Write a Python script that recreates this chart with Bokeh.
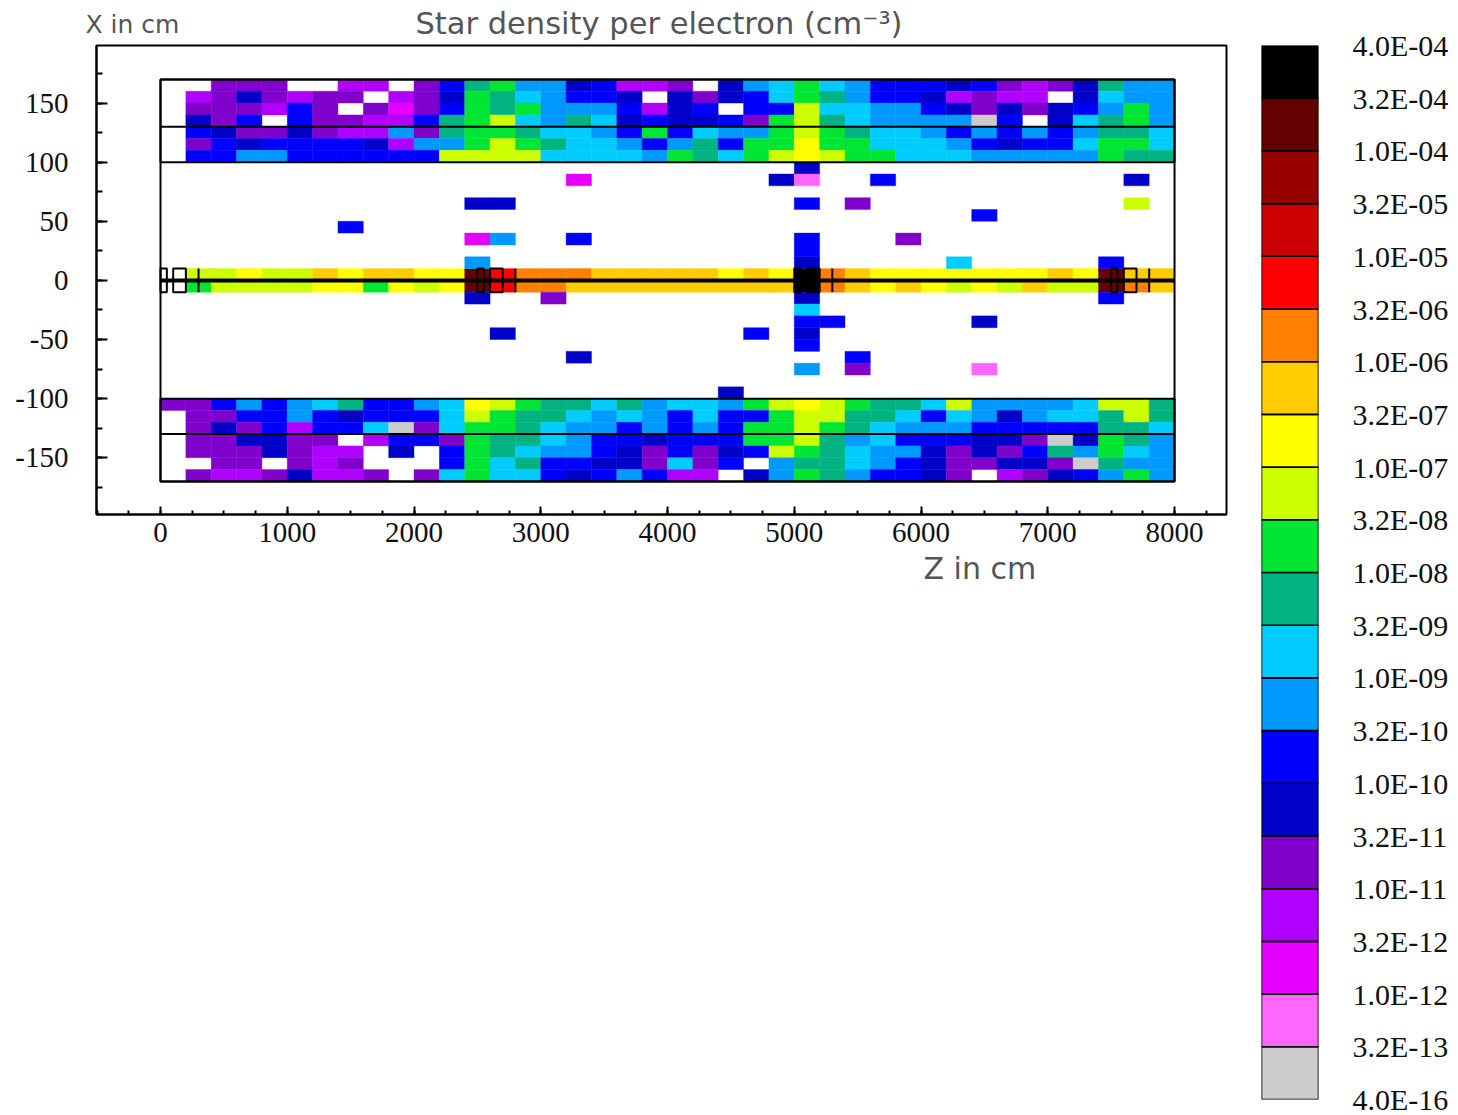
from bokeh.plotting import figure
from bokeh.models import ColumnDataSource, Range1d, FixedTicker, LinearAxis, CategoricalColorMapper
from bokeh.core.properties import value
from bokeh.embed import file_html
from bokeh.resources import INLINE

# colour levels, bottom of the colour bar first
level_codes = list("GPMUVDBACTNLYZORSHIK")
level_colors = ["#CCCCCC", "#FF66FF", "#E600FF", "#B000FF", "#8000CC", "#0000C8", "#0000FF",
                "#0099FF", "#00CCFF", "#00B380", "#00E633", "#CCFF00", "#FFFF00", "#FFCC00",
                "#FF8000", "#FF0000", "#CC0000", "#990000", "#660000", "#000000"]
level_labels = ["4.0E-16", "3.2E-13", "1.0E-12", "3.2E-12", "1.0E-11", "3.2E-11", "1.0E-10",
                "3.2E-10", "1.0E-09", "3.2E-09", "1.0E-08", "3.2E-08", "1.0E-07", "3.2E-07",
                "1.0E-06", "3.2E-06", "1.0E-05", "3.2E-05", "1.0E-04", "3.2E-04", "4.0E-04"]

# each row is 40 bins of 200 cm along Z; rows are 10 cm high in X
top_band = {  # lower X edge of row -> levels
    160: "..VVV..UU.VBTNAADBUUV.DACNCABBBDBVUVDTAA",
    150: ".UVDVUVV.UVDNTCABBD.DVDBCNTABBDUVUU.DCAA",
    140: ".VVVUBV.VMVBNTNAAABUDB.BBLCCAABDVDVDBANA",
    130: ".DVB.BVVUUBTNLCATCDBDDBVNLTCAAAAGB.DCTNA",
    120: ".BDVVDVUUAVTNNTCCABNBCAANLNTCCABABABATTC",
    110: ".VBDBBBBDUAANLNTCCABATBNNYNNCCCABDBBCNNC",
    100: ".BBAABBBBBBLLLLCCCCANTCNLYLNNCCCAAAAANTT",
}
beam_band = {
    0:   ".LLYLLZYZZYYIROOOZZZZZYZYKOZYYYYYYYZYIZZ",
    -10: ".NLLLLYYNYLYIROOZZZZZZZZZKOZYZYLYLZLLIOZ",
}
bottom_band = {
    -110: "VVBABACTBBACYLNTTCTACCANLYLNTTCLAAAACLLT",
    -120: ".VVBBABDBBBCLNTTCACABCBBNLLTTCBCADACCTLT",
    -130: ".VDVBUBBCGVCNNTCAABABABNNLNTCAAABBBBBTTC",
    -140: ".VVDDVV.UBBVNTTCABBDBBBNNLTACBBBDDVGDNTA",
    -150: ".VVVDVUU.D.BNTCAABDVBVDBLNTCAADVDVBTANCA",
    -160: "..VV.VUV...BNCTBBDDVCVB.ATTCABDVVDDVGTAA",
    -170: ".VUUVDUUV.VCNCCBDBABUU.DANTABBDV.UVDBANA",
}
# isolated bins between the bands: (bin index, lower X edge, level)
sparse_bins = [
    (25, 90, "D"), (16, 80, "M"), (24, 80, "D"), (25, 80, "P"), (28, 80, "B"), (38, 80, "D"),
    (12, 60, "D"), (13, 60, "D"), (25, 60, "B"), (27, 60, "V"), (38, 60, "L"),
    (32, 50, "B"), (7, 40, "B"),
    (12, 30, "M"), (13, 30, "A"), (16, 30, "B"), (25, 30, "B"), (29, 30, "V"),
    (25, 20, "B"),
    (12, 10, "A"), (25, 10, "D"), (31, 10, "C"), (37, 10, "B"),
    (12, -20, "D"), (15, -20, "V"), (25, -20, "D"), (37, -20, "B"),
    (25, -30, "C"),
    (25, -40, "B"), (26, -40, "B"), (32, -40, "D"),
    (13, -50, "D"), (23, -50, "B"), (25, -50, "D"),
    (25, -60, "B"),
    (16, -70, "D"), (27, -70, "B"),
    (25, -80, "A"), (27, -80, "V"), (32, -80, "P"),
    (22, -100, "D"),
]
bin_width = 200
row_height = 10

# detector outline
z_ticks = [0, 1000, 2000, 3000, 4000, 5000, 6000, 7000, 8000]
x_ticks = [-150, -100, -50, 0, 50, 100, 150]
x_tick_labels = {-150: "-150", -100: "-100", -50: "-50", 0: "0", 50: "50", 100: "100", 150: "150"}
module_starts = [0, 2500, 5000, 7500]
box_short = (0, 50)
box_long = (100, 200)
module_tick = 300
beam_half = 10

left, right, bottom, top, codes = [], [], [], [], []
for band in (top_band, beam_band, bottom_band):
    for x_low, levels in band.items():
        for i, c in enumerate(levels):
            if c != ".":
                left.append(i * bin_width); right.append((i + 1) * bin_width)
                bottom.append(x_low); top.append(x_low + row_height); codes.append(c)
for i, x_low, c in sparse_bins:
    left.append(i * bin_width); right.append((i + 1) * bin_width)
    bottom.append(x_low); top.append(x_low + row_height); codes.append(c)

mapper = CategoricalColorMapper(factors=level_codes, palette=level_colors)
cells = ColumnDataSource(dict(left=left, right=right, bottom=bottom, top=top, code=codes))

TICK_FONT = "Liberation Serif"
TITLE_FONT = "DejaVu Sans"
TITLE_COLOR = "#555555"

p = figure(width=1250, height=1115, x_range=Range1d(-505, 8410), y_range=Range1d(-198, 198.7),
           toolbar_location=None, output_backend="svg",
           min_border_left=96, min_border_right=24, min_border_top=45, min_border_bottom=601,
           x_axis_type=None, y_axis_type=None, background_fill_color="white")
p.grid.visible = False
p.outline_line_color = "black"
p.outline_line_width = 2

p.quad(left="left", right="right", bottom="bottom", top="top", source=cells,
       fill_color={"field": "code", "transform": mapper},
       line_color={"field": "code", "transform": mapper}, line_width=0.4)

# detector geometry
p.quad(left=[0, 0, 0], right=[8000, 8000, 8000], bottom=[100, -170, -170], top=[170, -100, 170],
       fill_color=None, line_color="black", line_width=2)
p.segment(x0=[0, 0], x1=[8000, 8000], y0=[130, -130], y1=[130, -130], line_color="black", line_width=2)
p.segment(x0=[0], x1=[8000], y0=[0], y1=[0], line_color="black", line_width=4)
p.quad(left=[m + box_short[0] for m in module_starts], right=[m + box_short[1] for m in module_starts],
       bottom=-beam_half, top=beam_half, fill_color=None, line_color="black", line_width=2)
p.quad(left=[m + box_long[0] for m in module_starts], right=[m + box_long[1] for m in module_starts],
       bottom=-beam_half, top=beam_half, fill_color=None, line_color="black", line_width=2)
p.segment(x0=[m + module_tick for m in module_starts], x1=[m + module_tick for m in module_starts],
          y0=-beam_half, y1=beam_half, line_color="black", line_width=2)

xax = LinearAxis(ticker=FixedTicker(ticks=z_ticks, minor_ticks=[v * 250 for v in range(-2, 34)]))
yax = LinearAxis(ticker=FixedTicker(ticks=x_ticks, minor_ticks=[v * 25 for v in range(-7, 8)]),
                 major_label_overrides=x_tick_labels)
for ax, mj, mn, st in ((xax, 8, 4, 8), (yax, 11, 6, 28)):
    ax.axis_line_color = "black"
    ax.axis_line_width = 2
    ax.major_tick_line_color = "black"
    ax.major_tick_line_width = 2
    ax.minor_tick_line_color = "black"
    ax.minor_tick_line_width = 2
    ax.major_tick_in = mj
    ax.major_tick_out = 0
    ax.minor_tick_in = mn
    ax.minor_tick_out = 0
    ax.major_label_text_font = TICK_FONT
    ax.major_label_text_font_size = "29px"
    ax.major_label_text_color = "#111111"
    ax.major_label_standoff = st
p.add_layout(xax, "below")
p.add_layout(yax, "left")

# colour bar
bar = figure(width=208, height=1115, x_range=Range1d(0, 1), y_range=Range1d(0, len(level_codes)),
             toolbar_location=None, output_backend="svg",
             min_border_left=11, min_border_right=140, min_border_top=45, min_border_bottom=16,
             x_axis_type=None, y_axis_type=None)
bar.styles = {"position": "absolute", "left": "1250px", "top": "0px"}
bar.grid.visible = False
bar.outline_line_color = None
bar_src = ColumnDataSource(dict(bottom=list(range(len(level_codes))),
                                top=list(range(1, len(level_codes) + 1)),
                                code=level_codes))
bar.quad(left=0, right=1, bottom="bottom", top="top", source=bar_src,
         fill_color={"field": "code", "transform": mapper}, line_color="black", line_width=1.6)
bax = LinearAxis(ticker=FixedTicker(ticks=list(range(len(level_labels)))),
                 major_label_overrides={i: t for i, t in enumerate(level_labels)})
bax.axis_line_color = None
bax.major_tick_line_color = None
bax.minor_tick_line_color = None
bax.major_label_text_font = TICK_FONT
bax.major_label_text_font_size = "30px"
bax.major_label_text_color = "#111111"
bax.major_label_standoff = 28
bar.add_layout(bax, "right")

# titles on a transparent layer over the page, in page pixels
overlay = figure(width=1458, height=1115, x_range=Range1d(0, 1458), y_range=Range1d(1115, 0),
                 toolbar_location=None, output_backend="svg",
                 min_border_left=0, min_border_right=0, min_border_top=0, min_border_bottom=0,
                 x_axis_type=None, y_axis_type=None,
                 background_fill_color=None, border_fill_color=None)
overlay.styles = {"position": "absolute", "left": "0px", "top": "0px"}
overlay.grid.visible = False
overlay.outline_line_color = None
title_texts = ["X in cm", "Star density per electron (cm\u207b\u00b3)", "Z in cm"]
title_x = [85, 415, 923]
title_y = [24, 23, 568]
title_sizes = ["25px", "30.5px", "30px"]
overlay.text(x=title_x, y=title_y, text=title_texts, text_font=value(TITLE_FONT),
             text_font_size=title_sizes, text_color=TITLE_COLOR,
             text_baseline="middle", text_align="left")

open("out.html", "w").write(file_html([p, bar, overlay], INLINE))
